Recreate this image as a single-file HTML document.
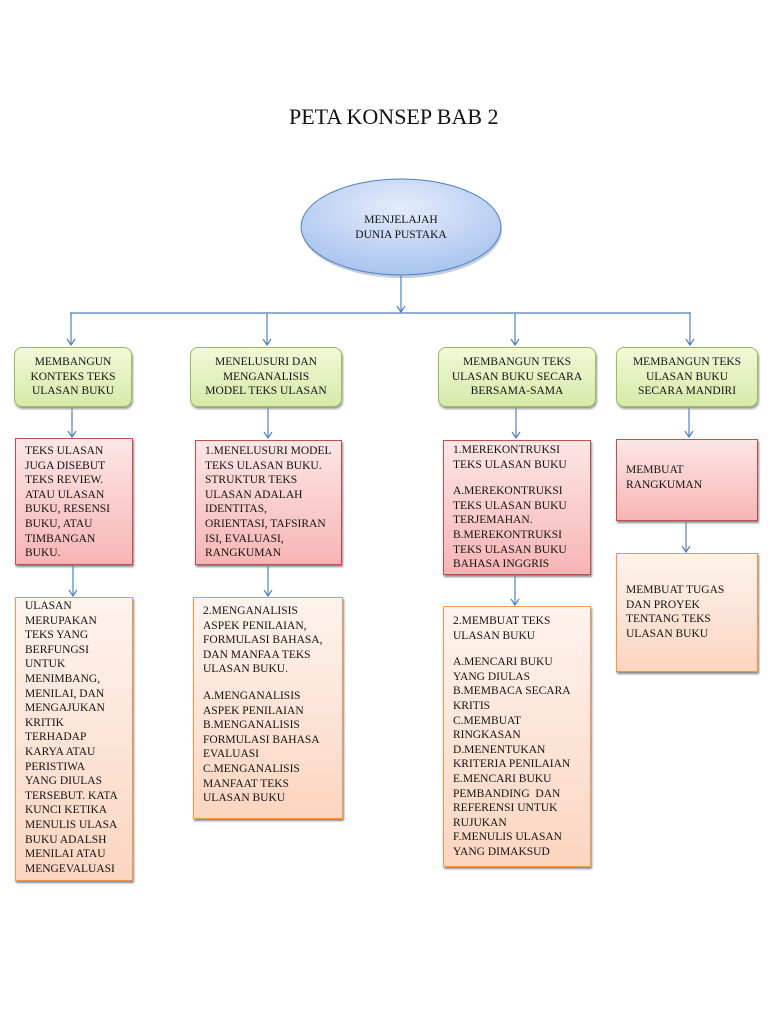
<!DOCTYPE html>
<html><head><meta charset="utf-8">
<style>
html,body{margin:0;padding:0;background:#fff;}
body{width:768px;height:1024px;position:relative;overflow:hidden;font-family:"Liberation Serif",serif;color:#111;}
.t{position:absolute;font-size:11.5px;line-height:14.6px;white-space:nowrap;}
.box{position:absolute;box-sizing:border-box;}
.g{border:1px solid #9bbb59;border-radius:8px;background:linear-gradient(#f1f8d8,#d7eaa8);box-shadow:1px 2px 2px #999;text-align:center;display:flex;align-items:center;justify-content:center;font-size:11.5px;line-height:14.6px;}
.r{border:1px solid #c0504d;background:linear-gradient(#fde6e6,#f7b5b5);box-shadow:1px 2px 2px #888;padding:5px 0 0 9px;font-size:11.5px;line-height:14.6px;}
.o{border:1px solid #f79646;background:linear-gradient(#fef3ee,#fbd5c0);box-shadow:1px 2px 2px #888;padding:2px 0 0 9px;font-size:11.5px;line-height:14.6px;}
</style></head><body>
<div class="t" style="left:289px;top:104px;font-size:22px;line-height:26px;">PETA KONSEP BAB 2</div>

<svg width="768" height="1024" style="position:absolute;left:0;top:0">
<defs>
<radialGradient id="eg" cx="50%" cy="30%" r="70%">
<stop offset="0" stop-color="#e4ecfb"/><stop offset="1" stop-color="#a9c3ef"/></radialGradient>
</defs>
<ellipse cx="401" cy="228" rx="100" ry="48" fill="#8a9bb5" opacity="0.5" transform="translate(1,2)"/>
<ellipse cx="401" cy="227" rx="100" ry="48" fill="url(#eg)" stroke="#4f81bd" stroke-width="1"/>
<g stroke="#4f81bd" stroke-width="1.2" fill="none">
<line x1="401" y1="276" x2="401" y2="312"/>
<line x1="70" y1="313" x2="691" y2="313"/>
<line x1="71" y1="313" x2="71" y2="345"/>
<line x1="267" y1="313" x2="267" y2="345"/>
<line x1="515" y1="313" x2="515" y2="345"/>
<line x1="690" y1="313" x2="690" y2="345"/>
<line x1="72" y1="407" x2="72" y2="437"/>
<line x1="268" y1="407" x2="268" y2="438"/>
<line x1="516" y1="407" x2="516" y2="438"/>
<line x1="689" y1="407" x2="689" y2="437"/>
<line x1="73" y1="565" x2="73" y2="596"/>
<line x1="268" y1="565" x2="268" y2="596"/>
<line x1="515" y1="575" x2="515" y2="605"/>
<line x1="686" y1="521" x2="686" y2="552"/>
</g>
<g stroke="#4f81bd" stroke-width="1.2" fill="none">
<polyline points="397,306 401,312 405,306"/>
<polyline points="67,339 71,345 75,339"/>
<polyline points="263,339 267,345 271,339"/>
<polyline points="511,339 515,345 519,339"/>
<polyline points="686,339 690,345 694,339"/>
<polyline points="68,431 72,437 76,431"/>
<polyline points="264,432 268,438 272,432"/>
<polyline points="512,432 516,438 520,432"/>
<polyline points="685,431 689,437 693,431"/>
<polyline points="69,590 73,596 77,590"/>
<polyline points="264,590 268,596 272,590"/>
<polyline points="511,599 515,605 519,599"/>
<polyline points="682,546 686,552 690,546"/>
</g>
<text x="401" y="223" font-family="Liberation Serif" font-size="11.5" text-anchor="middle" fill="#111">MENJELAJAH</text>
<text x="401" y="238" font-family="Liberation Serif" font-size="11.5" text-anchor="middle" fill="#111">DUNIA PUSTAKA</text>
</svg>

<div class="box g" style="left:14px;top:347px;width:118px;height:60px;">MEMBANGUN<br>KONTEKS TEKS<br>ULASAN BUKU</div>
<div class="box g" style="left:190px;top:347px;width:152px;height:60px;">MENELUSURI DAN<br>MENGANALISIS<br>MODEL TEKS ULASAN</div>
<div class="box g" style="left:438px;top:347px;width:158px;height:60px;">MEMBANGUN TEKS<br>ULASAN BUKU SECARA<br>BERSAMA-SAMA</div>
<div class="box g" style="left:616px;top:347px;width:142px;height:60px;">MEMBANGUN TEKS<br>ULASAN BUKU<br>SECARA MANDIRI</div>

<div class="box r" style="left:15px;top:438px;width:118px;height:127px;">TEKS ULASAN<br>JUGA DISEBUT<br>TEKS REVIEW.<br>ATAU ULASAN<br>BUKU, RESENSI<br>BUKU, ATAU<br>TIMBANGAN<br>BUKU.</div>
<div class="box r" style="left:195px;top:440px;width:147px;height:125px;padding-left:9px;padding-top:3px;">1.MENELUSURI MODEL<br>TEKS ULASAN BUKU.<br>STRUKTUR TEKS<br>ULASAN ADALAH<br>IDENTITAS,<br>ORIENTASI, TAFSIRAN<br>ISI, EVALUASI,<br>RANGKUMAN</div>
<div class="box r" style="left:443px;top:440px;width:148px;height:135px;padding-top:2px;">1.MEREKONTRUKSI<br>TEKS ULASAN BUKU<br><div style="height:12px"></div>A.MEREKONTRUKSI<br>TEKS ULASAN BUKU<br>TERJEMAHAN.<br>B.MEREKONTRUKSI<br>TEKS ULASAN BUKU<br>BAHASA INGGRIS</div>
<div class="box r" style="left:616px;top:439px;width:142px;height:82px;padding-top:23px;">MEMBUAT<br>RANGKUMAN</div>

<div class="box o" style="left:15px;top:597px;width:118px;height:284px;padding-top:1px;">ULASAN<br>MERUPAKAN<br>TEKS YANG<br>BERFUNGSI<br>UNTUK<br>MENIMBANG,<br>MENILAI, DAN<br>MENGAJUKAN<br>KRITIK<br>TERHADAP<br>KARYA ATAU<br>PERISTIWA<br>YANG DIULAS<br>TERSEBUT. KATA<br>KUNCI KETIKA<br>MENULIS ULASA<br>BUKU ADALSH<br>MENILAI ATAU<br>MENGEVALUASI</div>
<div class="box o" style="left:193px;top:597px;width:150px;height:222px;padding-top:6px;">2.MENGANALISIS<br>ASPEK PENILAIAN,<br>FORMULASI BAHASA,<br>DAN MANFAA TEKS<br>ULASAN BUKU.<br><div style="height:12px"></div>A.MENGANALISIS<br>ASPEK PENILAIAN<br>B.MENGANALISIS<br>FORMULASI BAHASA<br>EVALUASI<br>C.MENGANALISIS<br>MANFAAT TEKS<br>ULASAN BUKU</div>
<div class="box o" style="left:443px;top:606px;width:148px;height:261px;padding-top:7px;">2.MEMBUAT TEKS<br>ULASAN BUKU<br><div style="height:12px"></div>A.MENCARI BUKU<br>YANG DIULAS<br>B.MEMBACA SECARA<br>KRITIS<br>C.MEMBUAT<br>RINGKASAN<br>D.MENENTUKAN<br>KRITERIA PENILAIAN<br>E.MENCARI BUKU<br>PEMBANDING &nbsp;DAN<br>REFERENSI UNTUK<br>RUJUKAN<br>F.MENULIS ULASAN<br>YANG DIMAKSUD</div>
<div class="box o" style="left:616px;top:553px;width:142px;height:119px;padding-top:29px;">MEMBUAT TUGAS<br>DAN PROYEK<br>TENTANG TEKS<br>ULASAN BUKU</div>
</body></html>
